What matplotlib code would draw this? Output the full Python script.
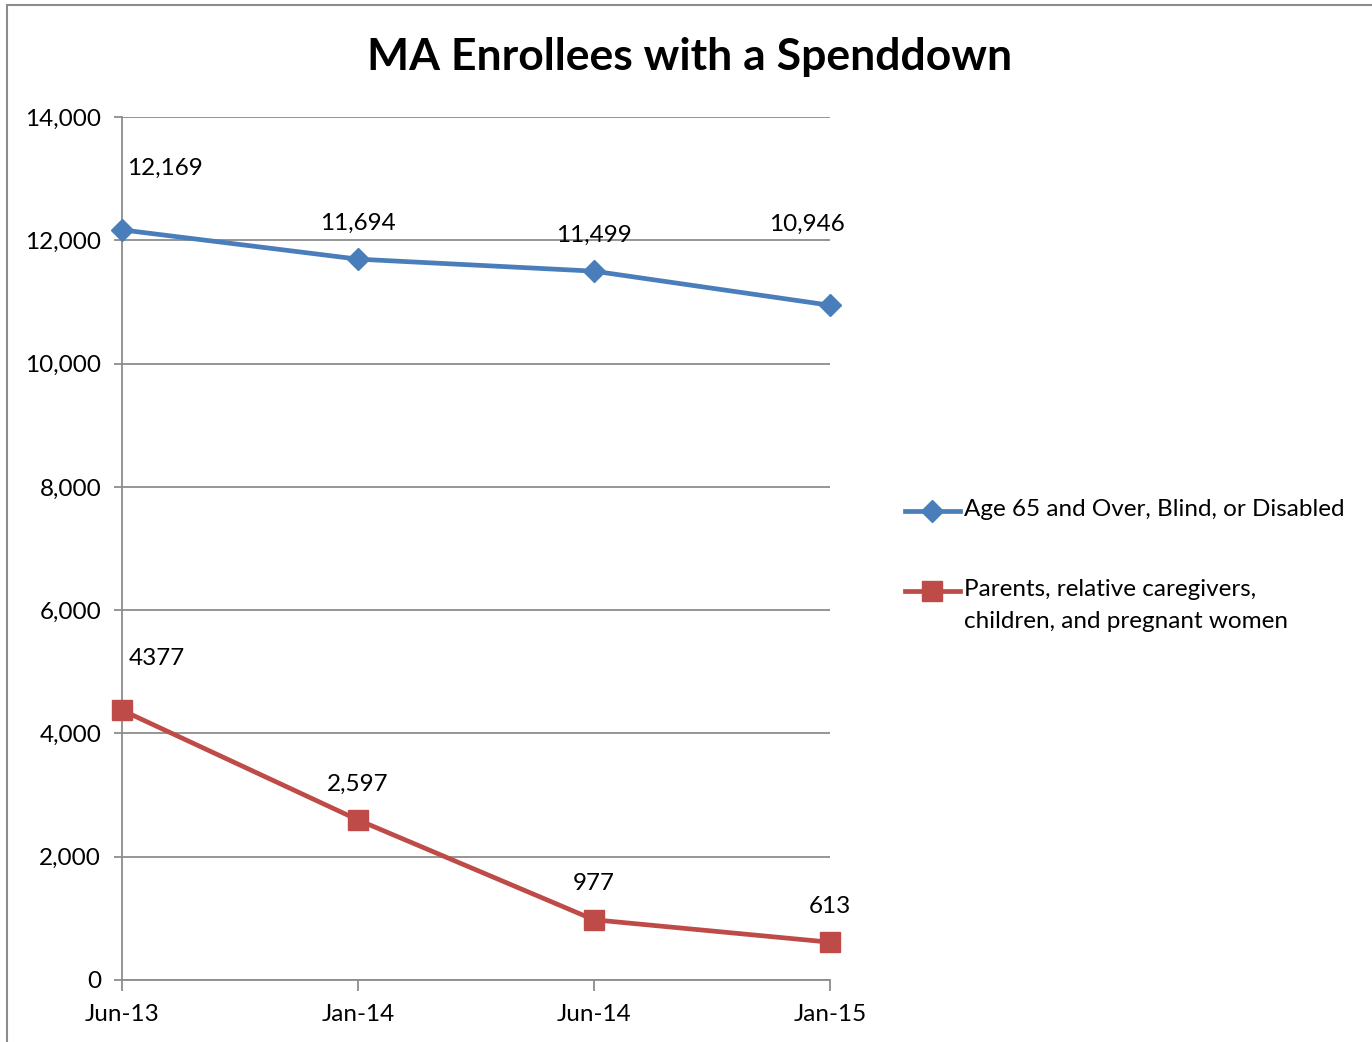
import matplotlib
matplotlib.use("Agg")
import matplotlib.pyplot as plt
from matplotlib.patches import Rectangle
from matplotlib.lines import Line2D

plt.rcParams['font.family'] = ['Lato', 'DejaVu Sans']

categories = ["Jun-13", "Jan-14", "Jun-14", "Jan-15"]
aged = [12169, 11694, 11499, 10946]
parents = [4377, 2597, 977, 613]
aged_labels = ["12,169", "11,694", "11,499", "10,946"]
parents_labels = ["4377", "2,597", "977", "613"]
series_names = ["Age 65 and Over, Blind, or Disabled",
                "Parents, relative caregivers,\nchildren, and pregnant women"]
yticks = [0, 2000, 4000, 6000, 8000, 10000, 12000, 14000]
ytick_labels = ["0", "2,000", "4,000", "6,000", "8,000", "10,000", "12,000", "14,000"]

blue = "#4A7EBB"
red = "#BE4B48"
grid = "#8C8C8C"
FS = 17.5

W, H = 1372, 1042
fig = plt.figure(figsize=(W/100, H/100), dpi=100)
ax = fig.add_axes([122/W, 1-980/H, (830-122)/W, (980-117)/H])

x = list(range(len(categories)))
ax.plot(x, aged, color=blue, lw=3.4, marker='D', ms=11, mfc=blue, mec=blue,
        zorder=3, clip_on=False)
ax.plot(x, parents, color=red, lw=3.4, marker='s', ms=14, mfc=red, mec=red,
        zorder=3, clip_on=False)

ax.set_xlim(0, 3)
ax.set_ylim(0, 14000)
ax.set_yticks(yticks)
ax.set_yticklabels(ytick_labels)
ax.set_xticks(x)
ax.set_xticklabels(categories)
ax.yaxis.grid(True, color=grid, lw=1.3)
ax.set_axisbelow(True)
for s in ['top', 'right']:
    ax.spines[s].set_visible(False)
for s in ['left', 'bottom']:
    ax.spines[s].set_color(grid)
    ax.spines[s].set_linewidth(1.3)
ax.tick_params(axis='y', direction='out', length=6, color=grid, width=1.3, labelsize=FS, pad=9)
ax.tick_params(axis='x', direction='out', length=8, color=grid, width=1.3, labelsize=FS, pad=9)

aged_off = [(43, 62), (0, 36), (0, 36), (-23, 81)]
par_off = [(35, 52), (0, 36), (0, 36), (0, 36)]
for i in range(4):
    ax.annotate(aged_labels[i], (x[i], aged[i]), xytext=aged_off[i], textcoords='offset pixels',
                ha='center', va='center', fontsize=FS, annotation_clip=False)
    ax.annotate(parents_labels[i], (x[i], parents[i]), xytext=par_off[i], textcoords='offset pixels',
                ha='center', va='center', fontsize=FS, annotation_clip=False)

fig.text(690/W, 1-57/H, "MA Enrollees with a Spenddown", ha='center', va='center',
         fontsize=32, fontweight='bold')

# legend (drawn with first-line alignment like the original)
leg_items = [(series_names[0], blue, 'D', 11, 511), (series_names[1], red, 's', 14, 591)]
for name, col, mk, ms, yy in leg_items:
    fy = 1 - yy/H
    fig.add_artist(Line2D([905/W, 960/W], [fy, fy], color=col, lw=3.4, transform=fig.transFigure))
    fig.add_artist(Line2D([932.5/W], [fy], color=col, marker=mk, ms=ms, mfc=col, mec=col,
                          transform=fig.transFigure))
    fig.text(964/W, fy + 12/H, name, ha='left', va='top', fontsize=FS, linespacing=1.62)

fig.patches.append(Rectangle((7/W, -0.1), 1.2, 1 - 5/H + 0.1, transform=fig.transFigure,
                             fill=False, edgecolor=grid, lw=1.5))

fig.savefig("out.png", dpi=100)
